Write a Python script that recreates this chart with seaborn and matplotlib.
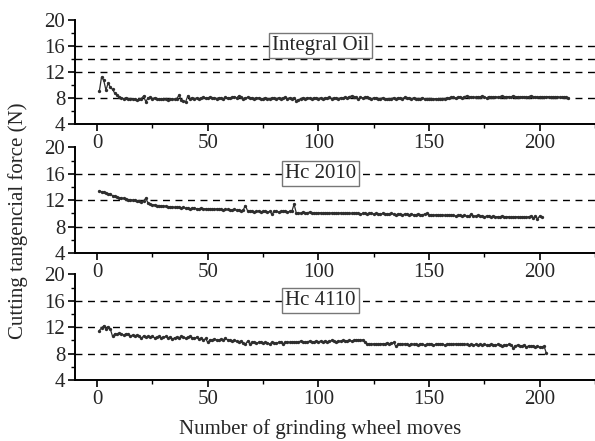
import numpy as np
import pandas as pd
import seaborn as sns
import matplotlib.pyplot as plt
from matplotlib.ticker import MultipleLocator

# Cutting tangential force (N) per grinding wheel move
integral_oil = [
    9.0, 11.2, 10.7, 9.2, 10.3, 9.6, 9.3, 8.7, 8.5, 8.2,
    8.0, 7.9, 8.0, 7.9, 7.8, 7.9, 7.8, 7.7, 7.8, 7.9,
    8.3, 7.4, 8.0, 8.1, 7.9, 8.0, 7.9, 7.8, 7.9, 7.8,
    7.8, 7.7, 7.9, 7.8, 7.8, 7.9, 8.4, 7.7, 7.5, 7.4,
    8.3, 7.9, 8.0, 7.9, 8.0, 7.9, 8.0, 8.1, 8.0, 8.0,
    8.1, 8.0, 8.0, 7.9, 8.0, 8.0, 7.9, 8.1, 8.0, 8.0,
    8.1, 8.2, 8.0, 8.3, 8.1, 7.9, 8.0, 8.1, 8.0, 8.0,
    7.9, 8.0, 8.0, 7.9, 7.9, 8.0, 7.9, 7.9, 8.0, 8.0,
    7.9, 8.0, 7.9, 8.0, 8.1, 7.9, 8.0, 7.9, 8.0, 7.6,
    7.7, 7.9, 8.0, 7.9, 8.0, 8.0, 7.9, 8.0, 8.0, 7.9,
    8.0, 7.9, 8.0, 8.0, 8.1, 7.9, 8.0, 8.0, 7.9, 8.0,
    8.0, 8.1, 8.0, 8.2, 8.3, 8.2, 8.1, 7.8, 8.1, 8.0,
    8.1, 8.2, 8.0, 7.9, 8.0, 8.0, 7.9, 7.9, 8.0, 7.9,
    7.9, 7.8, 7.9, 8.0, 7.9, 8.0, 8.0, 7.9, 8.1, 8.0,
    8.0, 7.9, 8.0, 7.9, 7.9, 7.9, 8.0, 7.9, 7.8, 7.9,
    7.9, 7.8, 7.9, 7.8, 7.8, 7.9, 7.9, 8.0, 8.0, 8.1,
    8.1, 8.0, 8.1, 8.2, 8.0, 8.2, 8.3, 8.1, 8.2, 8.1,
    8.1, 8.2, 8.1, 8.3, 8.1, 8.0, 8.2, 8.2, 8.1, 8.2,
    8.1, 8.2, 8.3, 8.1, 8.2, 8.2, 8.1, 8.3, 8.2, 8.2,
    8.1, 8.2, 8.2, 8.1, 8.2, 8.3, 8.2, 8.2, 8.1, 8.2,
    8.2, 8.1, 8.2, 8.2, 8.1, 8.2, 8.1, 8.2, 8.1, 8.1,
    8.2, 8.1, 8.0,
]

hc_2010 = [
    13.4, 13.3, 13.2, 13.1, 13.0, 12.9, 12.7, 12.6, 12.5, 12.4,
    12.3, 12.3, 12.2, 12.1, 12.1, 12.0, 12.0, 11.9, 11.9, 11.8,
    11.9, 12.3, 11.6, 11.4, 11.3, 11.3, 11.2, 11.2, 11.1, 11.1,
    11.1, 11.0, 11.0, 11.0, 10.9, 11.0, 10.9, 10.8, 10.9, 10.8,
    10.8, 10.7, 10.8, 10.8, 10.7, 10.7, 10.8, 10.7, 10.7, 10.6,
    10.7, 10.6, 10.6, 10.7, 10.6, 10.6, 10.5, 10.6, 10.6, 10.5,
    10.5, 10.6, 10.5, 10.5, 10.4, 10.5, 11.2, 10.4, 10.3, 10.4,
    10.2, 10.3, 10.4, 10.2, 10.3, 10.4, 10.2, 10.3, 9.9, 10.3,
    10.3, 10.2, 10.3, 10.3, 10.4, 10.2, 10.3, 10.3, 11.4, 10.1,
    10.1, 10.0, 10.2, 10.1, 10.1, 10.2, 10.1, 10.1, 10.0, 10.1,
    10.1, 10.0, 10.1, 10.1, 10.0, 10.1, 10.1, 10.0, 10.0, 10.1,
    10.0, 10.0, 10.1, 10.0, 10.0, 10.1, 10.0, 10.0, 9.9, 10.0,
    10.0, 9.9, 10.0, 10.0, 9.9, 10.0, 9.9, 9.9, 10.0, 9.9,
    9.9, 9.9, 10.0, 9.9, 9.8, 9.9, 9.9, 9.8, 9.9, 9.9,
    9.8, 9.9, 9.8, 9.8, 9.9, 9.8, 9.8, 9.9, 10.0, 9.8,
    9.8, 9.7, 9.8, 9.8, 9.7, 9.8, 9.7, 9.7, 9.8, 9.7,
    9.7, 9.6, 9.7, 9.7, 9.6, 9.7, 9.6, 9.6, 9.9, 9.6,
    9.6, 9.7, 9.6, 9.6, 9.5, 9.6, 9.6, 9.5, 9.6, 9.5,
    9.5, 9.5, 9.6, 9.5, 9.5, 9.5, 9.4, 9.5, 9.5, 9.5,
    9.4, 9.5, 9.5, 9.4, 9.5, 9.6, 9.3, 9.6, 9.2, 9.6,
    9.4,
]

hc_4110 = [
    11.5, 11.9, 12.2, 11.8, 12.1, 11.7, 10.6, 11.0, 10.9, 11.1,
    11.0, 10.8, 11.0, 10.9, 10.7, 10.8, 10.7, 10.8, 10.6, 10.3,
    10.7, 10.5, 10.6, 10.5, 10.6, 10.4, 10.5, 10.6, 10.4, 10.5,
    10.6, 10.4, 10.5, 10.2, 10.4, 10.5, 10.4, 10.6, 10.5, 10.3,
    10.5, 10.6, 10.4, 10.3, 10.5, 10.2, 10.3, 10.0, 10.3, 9.7,
    10.1, 10.0, 10.2, 10.1, 10.0, 10.2, 10.1, 10.3, 10.1, 10.0,
    9.9, 10.0, 9.9, 9.8, 9.9, 9.6, 9.4, 9.9, 9.5, 9.7,
    9.8, 9.6, 9.7, 9.8, 9.6, 9.7, 9.6, 9.5, 9.7, 9.6,
    9.6, 9.7, 9.8, 9.5, 9.7, 9.8, 9.7, 9.8, 9.8, 9.7,
    9.8, 9.9, 9.8, 9.7, 9.8, 9.9, 9.8, 9.8, 9.9, 9.8,
    9.9, 9.8, 9.9, 9.8, 9.9, 10.0, 9.9, 9.8, 9.9, 9.9,
    10.0, 9.9, 9.9, 10.0, 9.9, 10.0, 10.1, 10.1, 10.0, 10.1,
    9.8, 9.5, 9.5, 9.4, 9.5, 9.5, 9.4, 9.5, 9.5, 9.5,
    9.6, 9.5, 9.6, 9.7, 9.1, 9.4, 9.5, 9.4, 9.5, 9.4,
    9.3, 9.5, 9.4, 9.4, 9.3, 9.5, 9.4, 9.3, 9.4, 9.4,
    9.5, 9.3, 9.4, 9.5, 9.4, 9.5, 9.3, 9.4, 9.5, 9.4,
    9.4, 9.5, 9.4, 9.4, 9.5, 9.4, 9.4, 9.3, 9.4, 9.3,
    9.4, 9.3, 9.4, 9.3, 9.4, 9.3, 9.3, 9.4, 9.3, 9.3,
    9.4, 9.3, 9.2, 9.3, 9.3, 9.4, 9.3, 8.9, 9.2, 9.3,
    9.1, 9.2, 9.3, 9.0, 9.2, 9.1, 9.2, 9.0, 9.1, 9.0,
    9.0, 9.1, 8.1,
]

panels = ["Integral Oil", "Hc 2010", "Hc 4110"]
series = [integral_oil, hc_2010, hc_4110]
ref_lines = [[8, 12, 14, 16], [8, 12, 16], [8, 12, 16]]

sns.set_style("ticks")
plt.rcParams["font.family"] = ["Liberation Serif", "DejaVu Serif"]
plt.rcParams["font.size"] = 15

fig = plt.figure(figsize=(5.95, 4.41), dpi=100)
boxes = [[0.126, 0.719, 0.874, 0.236],
         [0.126, 0.426, 0.874, 0.240],
         [0.126, 0.138, 0.874, 0.240]]

for pos, name, vals, lines in zip(boxes, panels, series, ref_lines):
    ax = fig.add_axes(pos)
    df = pd.DataFrame({"move": np.arange(1, len(vals) + 1), "force": vals})
    for y in lines:
        ax.axhline(y, color="black", lw=1.0, ls=(0, (5, 4)), zorder=1)
    sns.lineplot(data=df, x="move", y="force", ax=ax, color="#2e2e2e",
                 lw=0.9, marker="o", markersize=2.4, markeredgewidth=0, zorder=3)
    ax.set_xlim(-10, 225)
    ax.set_ylim(4, 20)
    ax.xaxis.set_major_locator(MultipleLocator(50))
    ax.xaxis.set_minor_locator(MultipleLocator(25))
    ax.yaxis.set_major_locator(MultipleLocator(4))
    ax.yaxis.set_minor_locator(MultipleLocator(2))
    ax.tick_params(which="major", length=5, width=1.2, labelsize=15, pad=2, color="black")
    ax.tick_params(which="minor", length=3, width=1.0, color="black")
    for side in ["top", "right"]:
        ax.spines[side].set_visible(False)
    for side in ["left", "bottom"]:
        ax.spines[side].set_linewidth(1.4)
        ax.spines[side].set_color("black")
    ax.set_xlabel("")
    ax.set_ylabel("")
    ax.patch.set_alpha(0)
    ax.text(101, 16, name, ha="center", va="center", fontsize=15, zorder=5,
            bbox=dict(boxstyle="square,pad=0.15", fc="white", ec="#777777", lw=1.0))

ax.set_xlabel("Number of grinding wheel moves", fontsize=15)
ax.xaxis.set_label_coords(0.471, -0.365)
fig.text(0.03, 0.5, "Cutting tangencial force (N)", rotation=90,
         ha="center", va="center", fontsize=15)

fig.savefig("out.png", dpi=100)
